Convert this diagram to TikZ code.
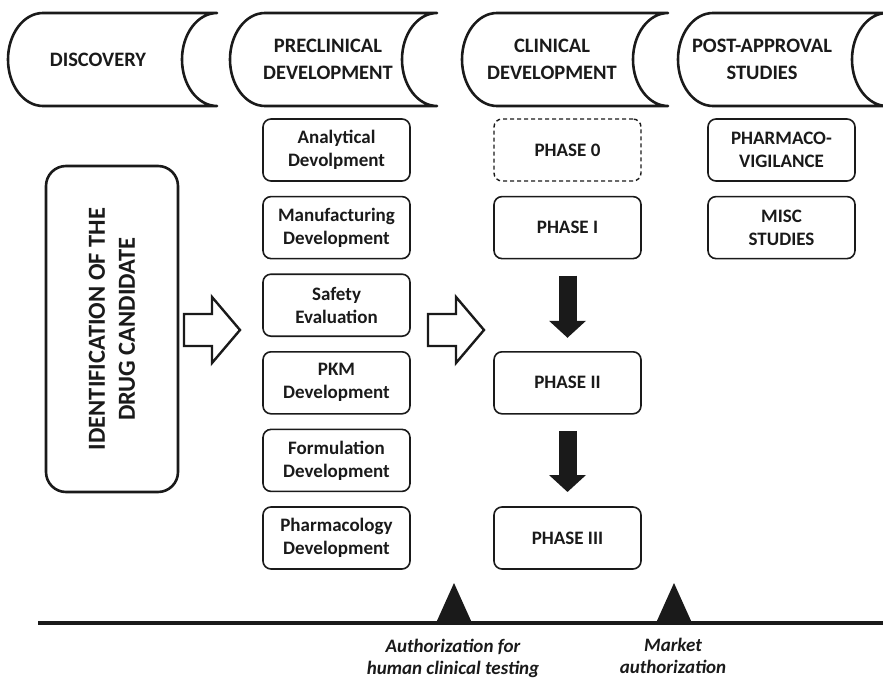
\documentclass[tikz,border=0pt]{standalone}
\usepackage{fontspec}
\setmainfont{Carlito}
\usetikzlibrary{arrows.meta,positioning}
\definecolor{InkBlack}{RGB}{26,26,26}
\tikzset{
  stage/.style={draw=InkBlack,line width=2.6pt,fill=white,line join=round},
  stagetext/.style={text=InkBlack,align=center,font=\bfseries\fontsize{20.5}{27}\selectfont},
  task/.style={draw=InkBlack,rounded corners=8pt,line width=1.6pt,fill=white,outer sep=0pt,
    minimum width=147pt,minimum height=62pt,align=center,text=InkBlack,
    font=\bfseries\fontsize{19}{23}\selectfont},
  optional/.style={task,dash pattern=on 4pt off 3pt,line width=1.4pt},
  candidate/.style={draw=InkBlack,rounded corners=20pt,line width=2.6pt,rotate=90,
    minimum width=326pt,minimum height=132pt,align=center,text=InkBlack,
    font=\bfseries\fontsize{24.5}{30}\selectfont},
  hollow/.style={draw=InkBlack,line width=2.4pt,fill=white,line join=miter},
  blockarrow/.style={-{Triangle[width=36pt,length=17pt]},line width=18pt,InkBlack},
  milestone/.style={fill=InkBlack},
  timeline/.style={line width=4.5pt,InkBlack},
  mstext/.style={text=InkBlack,align=center,font=\bfseries\itshape\fontsize{19}{22}\selectfont}
}

\begin{document}
\begin{tikzpicture}[x=1pt,y=-1pt,node distance=15.6pt]
  \useasboundingbox (0,0) rectangle (883,679);

  % stage headers
  \foreach \L/\R in {8/217,230/437,462/668,678/887}
    \draw[stage] (\R,13) -- (\L+35,13)
      arc[start angle=270,end angle=90,x radius=35,y radius=46.5] -- (\R,106)
      arc[start angle=90,end angle=270,x radius=35,y radius=46.5] -- cycle;
  \node[stagetext] (disc) at (98,60) {DISCOVERY};
  \node[stagetext] (precl) at (328,59) {PRECLINICAL\\DEVELOPMENT};
  \node[stagetext] (clin) at (552,59) {CLINICAL\\DEVELOPMENT};
  \node[stagetext] (post) at (762,59) {POST-APPROVAL\\STUDIES};

  % discovery
  \node[candidate] (ident) at (112,329) {IDENTIFICATION OF THE\\DRUG CANDIDATE};

  % preclinical column
  \node[task] (anal) at (336.5,150) {Analytical\\Devolpment};
  \node[task,below=of anal] (manu) {Manufacturing\\Development};
  \node[task,below=of manu] (safe) {Safety\\Evaluation};
  \node[task,below=of safe] (pkm) {PKM\\Development};
  \node[task,below=of pkm] (form) {Formulation\\Development};
  \node[task,below=of form] (pharm) {Pharmacology\\Development};

  % clinical column
  \node[optional] (ph0) at (567.5,150) {PHASE 0};
  \node[task,below=of ph0] (ph1) {PHASE I};
  \node[task,below=93.2pt of ph1] (ph2) {PHASE II};
  \node[task,below=93.2pt of ph2] (ph3) {PHASE III};
  \draw[blockarrow,shorten <=17pt,shorten >=14pt] (ph1.south) -- (ph2.north);
  \draw[blockarrow,shorten <=17pt,shorten >=15pt] (ph2.south) -- (ph3.north);

  % post-approval column
  \node[task] (vigil) at (781.5,150) {PHARMACO-\\VIGILANCE};
  \node[task,below=of vigil] (misc) {MISC\\STUDIES};

  % hand-over arrows
  \foreach \ax in {184,428}
    \draw[hollow] (\ax,314) -- ++(28,0) -- ++(0,-17) -- ++(28,33)
      -- ++(-28,33) -- ++(0,-17) -- ++(-28,0) -- cycle;

  % timeline
  \draw[timeline] (38,623) -- (890,623);
  \coordinate (ms1) at (454,623);
  \coordinate (ms2) at (674,623);
  \fill[milestone] (436,623) -- (454,583) -- (472,623) -- cycle;
  \fill[milestone] (656,623) -- (674,583) -- (692,623) -- cycle;
  \node[mstext] (authhuman) at (453,658) {Authorization for\\human clinical testing};
  \node[mstext] (authmarket) at (673,656) {Market\\authorization};
\end{tikzpicture}
\end{document}
